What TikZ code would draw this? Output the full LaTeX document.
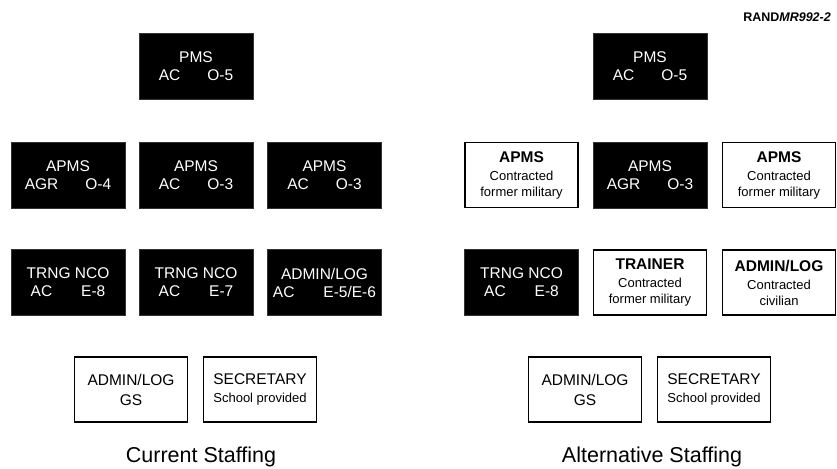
\documentclass[tikz,border=0pt]{standalone}
\usepackage{fontspec}
\setmainfont{Liberation Sans}
\newcommand{\bigf}{\fontsize{15.5}{18}\selectfont}
\newcommand{\smallf}{\fontsize{13}{16}\selectfont}
\newcommand{\gapx}{\hspace{27pt}}
\begin{document}
\begin{tikzpicture}[x=1pt,y=1pt,
  blk/.style={fill=black, draw=black!80, line width=0.6pt, text=white,
    minimum width=114pt, minimum height=66pt, inner sep=0pt,
    align=center, font=\bigf},
  wht/.style={fill=white, draw=black, line width=1.3pt,
    minimum width=113pt, minimum height=65pt, inner sep=0pt,
    align=center, font=\smallf},
  captext/.style={anchor=base, font=\fontsize{21.5}{24}\selectfont, inner sep=0pt},
]
\useasboundingbox (0,0) rectangle (837,-468);
% ---------- Current staffing ----------
\node[blk] (cpms) at (196,-66.5) {PMS\\AC\gapx O-5};
\node[blk] (ca1) at (68,-175) {APMS\\AGR\gapx O-4};
\node[blk] (ca2) at (196,-175) {APMS\\AC\gapx O-3};
\node[blk] (ca3) at (324.5,-175) {APMS\\AC\gapx O-3};
\node[blk] (ct1) at (68,-282.5) {TRNG NCO\\AC\hspace{29pt}E-8};
\node[blk] (ct2) at (196,-282.5) {TRNG NCO\\AC\hspace{29pt}E-7};
\node[blk] (cadm) at (324.5,-282.5) {ADMIN/LOG\\AC\hspace{29pt}E-5/E-6};
\node[wht, font=\bigf] (cgs) at (131,-389.5) {ADMIN/LOG\\[2pt]GS};
\node[wht] (csec) at (260,-389.5) {{\bigf SECRETARY}\\[2pt]School provided};
\node[captext] (ccap) at (201,-462.5) {Current Staffing};
% ---------- Alternative staffing ----------
\node[blk] (apms) at (650,-66.5) {PMS\\AC\gapx O-5};
\node[wht] (aa1) at (521.5,-175) {{\bigf\bfseries APMS}\\[2pt]Contracted\\former military};
\node[blk] (aa2) at (650,-175) {APMS\\AGR\gapx O-3};
\node[wht] (aa3) at (779,-175) {{\bigf\bfseries APMS}\\[2pt]Contracted\\former military};
\node[blk] (at1) at (521.5,-282.5) {TRNG NCO\\AC\hspace{29pt}E-8};
\node[wht] (atr) at (650,-282.5) {{\bigf\bfseries TRAINER}\\[2pt]Contracted\\former military};
\node[wht] (aadm) at (779,-282.5) {{\bigf\bfseries ADMIN/LOG}\\[2pt]Contracted\\civilian};
\node[wht, font=\bigf] (ags) at (585,-389.5) {ADMIN/LOG\\[2pt]GS};
\node[wht] (asec) at (714,-389.5) {{\bigf SECRETARY}\\[2pt]School provided};
\node[captext] (acap) at (652,-462.5) {Alternative Staffing};
% ---------- code ----------
\node[anchor=base east, inner sep=0pt, font=\fontsize{12.5}{14}\selectfont\bfseries] (code) at (831,-22) {RAND\textit{MR992-2}};
\end{tikzpicture}
\end{document}
